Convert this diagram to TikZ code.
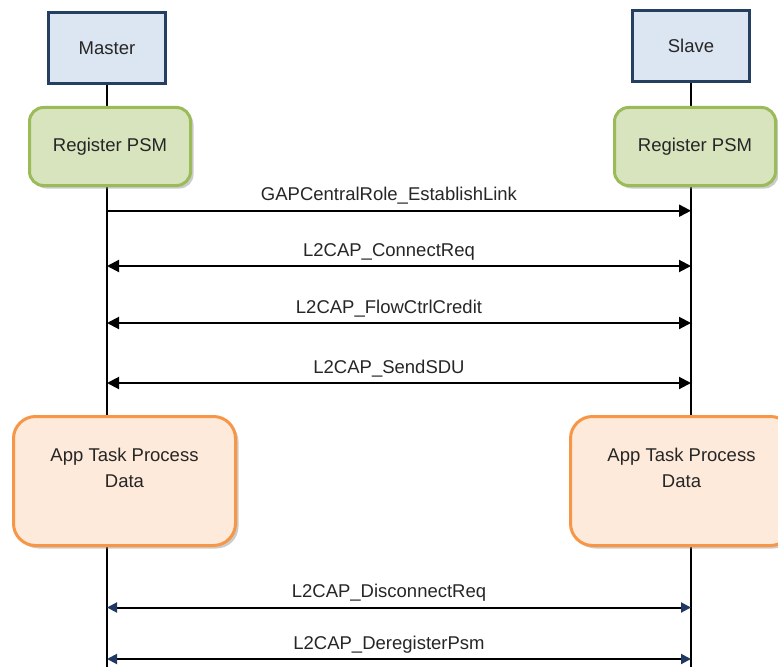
\documentclass[tikz,border=0pt]{standalone}
\usepackage{fontspec}
\setmainfont{Liberation Sans}
\usetikzlibrary{arrows.meta, shadows, backgrounds}

\definecolor{roleline}{HTML}{243F60}
\definecolor{rolefill}{HTML}{DCE6F2}
\definecolor{regline}{HTML}{9BBB59}
\definecolor{regfill}{HTML}{D7E4BD}
\definecolor{procline}{HTML}{F79646}
\definecolor{procfill}{HTML}{FDEADA}
\definecolor{tipblue}{HTML}{1F3864}

\begin{document}
\begin{tikzpicture}[
  x=1pt, y=-1pt,
  every node/.style={font=\fontsize{18.5}{26}\selectfont, text=black!85},
  role/.style={draw=roleline, fill=rolefill, line width=3pt, minimum width=117pt, minimum height=71pt},
  regbox/.style={draw=regline, fill=regfill, line width=3pt, rounded corners=14pt, minimum width=161pt, minimum height=78pt, drop shadow={shadow xshift=3pt, shadow yshift=-3pt, fill=black!40}},
  procbox/.style={draw=procline, fill=procfill, line width=3pt, rounded corners=22pt, minimum width=222pt, minimum height=129pt, align=center, drop shadow={shadow xshift=3pt, shadow yshift=-3pt, fill=black!40}},
  life/.style={line width=2pt},
  msg/.style={line width=2pt, -{Triangle[length=12pt, width=12pt]}},
  both/.style={line width=2pt, {Triangle[length=12pt, width=12pt]}-{Triangle[length=12pt, width=12pt]}},
  bluetips/.style={line width=2pt, {Triangle[length=10pt, width=10pt, color=tipblue]}-{Triangle[length=10pt, width=10pt, color=tipblue]}},
  lbl/.style={midway, anchor=base, yshift=10pt, xshift=-10pt}
]
\useasboundingbox (0,0) rectangle (778,666);

\node[role] (master) at (107,48) {Master};
\node[role] (slave) at (691,46) {Slave};

\node[regbox] (regM) at (110,146.5) {Register PSM};
\node[regbox] (regS) at (695,146.5) {Register PSM};

\node[procbox] (procM) at (124.5,481) {App Task Process\\Data\\ \mbox{}};
\node[procbox] (procS) at (681.5,481) {App Task Process\\Data\\ \mbox{}};

\coordinate (mEnd) at (107,668);
\coordinate (sEnd) at (691,668);

\begin{scope}[on background layer]
\draw[life] (master) -- (mEnd);
\draw[life] (slave) -- (sEnd);
\end{scope}

\coordinate (row1) at (399,210.7);
\coordinate (row2) at (399,266);
\coordinate (row3) at (399,323);
\coordinate (row4) at (399,383);
\coordinate (row5) at (399,607.5);
\coordinate (row6) at (399,659);

\draw[msg] (master |- row1) -- (slave |- row1) node[lbl] {GAPCentralRole\_EstablishLink};
\draw[both] (master |- row2) -- (slave |- row2) node[lbl] {L2CAP\_ConnectReq};
\draw[both] (master |- row3) -- (slave |- row3) node[lbl] {L2CAP\_FlowCtrlCredit};
\draw[both] (master |- row4) -- (slave |- row4) node[lbl] {L2CAP\_SendSDU};
\draw[bluetips] (master |- row5) -- (slave |- row5) node[lbl] {L2CAP\_DisconnectReq};
\draw[bluetips] (master |- row6) -- (slave |- row6) node[lbl] {L2CAP\_DeregisterPsm};

\end{tikzpicture}
\end{document}
